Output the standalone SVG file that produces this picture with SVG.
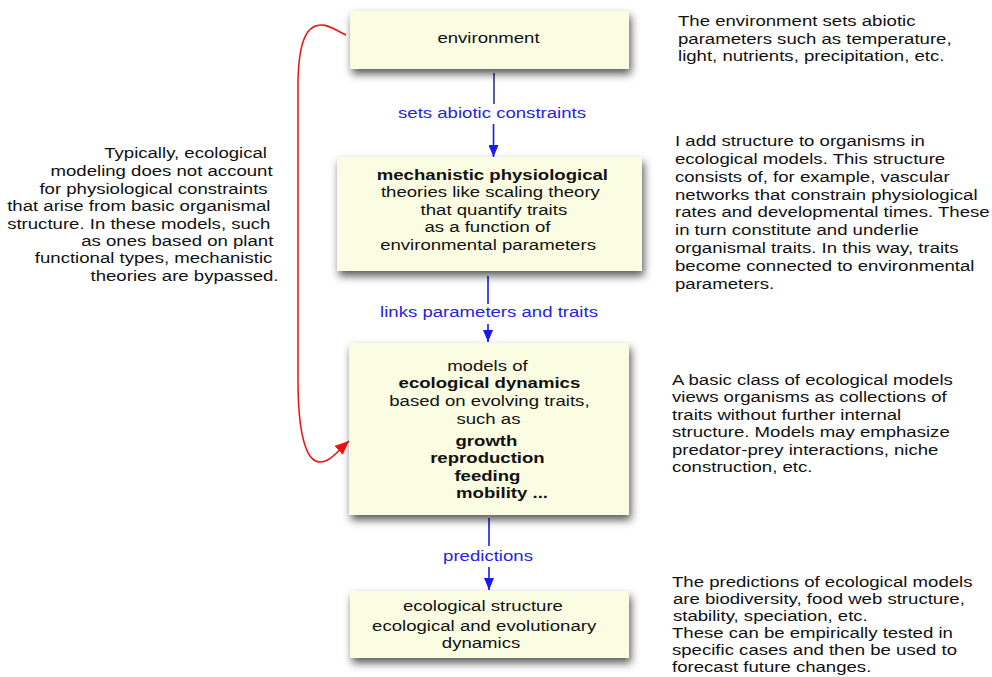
<svg xmlns="http://www.w3.org/2000/svg" width="992" height="677" viewBox="0 0 992 677">
<style>
text{font-family:"Liberation Sans",Arial,Helvetica,sans-serif;font-size:15px;fill:#111}
.c{text-anchor:middle}
.e{text-anchor:end}
.b{font-weight:bold}
.lbl{fill:#2424e0;text-anchor:middle}
.box{fill:#fbfde3;filter:url(#sh)}
.blue{stroke:#1a1af0;stroke-width:1.6;fill:none;marker-end:url(#ab)}
</style>
<defs>
<filter id="sh" x="-10%" y="-20%" width="125%" height="150%">
<feDropShadow dx="2" dy="5" stdDeviation="4" flood-color="#000" flood-opacity="0.65"/>
</filter>
<marker id="ab" viewBox="0 0 12 10" refX="12" refY="5" markerWidth="12" markerHeight="10" markerUnits="userSpaceOnUse" orient="auto">
<path d="M0,0 L12,5 L0,10 Z" fill="#1a1af0"/>
</marker>
<marker id="ar" viewBox="0 0 14 12" refX="14" refY="6" markerWidth="14" markerHeight="12" markerUnits="userSpaceOnUse" orient="auto">
<path d="M0,0 L14,6 L0,12 Z" fill="#ee1111"/>
</marker>
</defs>

<g id="connectors">
<line x1="494" y1="73" x2="494" y2="104" stroke="#2c3590" stroke-width="1.6"/>
<line class="blue" x1="493.5" y1="124" x2="493.5" y2="157" stroke="#2c3590"/>
<line x1="488" y1="276" x2="488" y2="304" stroke="#1a1af0" stroke-width="1.6"/>
<line class="blue" x1="488" y1="324" x2="488" y2="342"/>
<line x1="489" y1="518" x2="489" y2="546" stroke="#1a1af0" stroke-width="1.6"/>
<line class="blue" x1="489" y1="567" x2="489" y2="590"/>
<path d="M346 35 C335 30 328 24 320 25 C305 26 299 45 298 80 L298 380 C298 430 305 462 320 462 C330 462 338 451 349 441" fill="none" stroke="#ee1111" stroke-width="1.5" marker-end="url(#ar)"/>
<text class="lbl" transform="translate(492,118) scale(1.24,1)">sets abiotic constraints</text>
<text class="lbl" transform="translate(489,317) scale(1.24,1)">links parameters and traits</text>
<text class="lbl" transform="translate(488,561) scale(1.24,1)">predictions</text>
</g>

<g id="environment">
<rect class="box" x="350" y="11" width="279" height="58"/>
<text class="c" transform="translate(488.5,43) scale(1.24,1)">environment</text>
</g>

<g id="mechanistic">
<rect class="box" x="337" y="157" width="305" height="114"/>
<text class="c" transform="translate(492,0) scale(1.24,1)">
<tspan class="b" x="2.4" y="180">mechanistic physiological</tspan>
<tspan x="0.8" y="197.5">theories like scaling theory</tspan>
<tspan x="3.6" y="215">that quantify traits</tspan>
<tspan x="-1.6" y="232.5">as a function of</tspan>
<tspan x="-3.2" y="250">environmental parameters</tspan>
</text>
</g>

<g id="dynamics">
<rect class="box" x="349" y="343" width="280" height="172"/>
<text class="c" transform="translate(490,0) scale(1.24,1)">
<tspan x="0" y="371">models of</tspan>
<tspan class="b" x="1.6" y="388">ecological dynamics</tspan>
<tspan x="1.6" y="406">based on evolving traits,</tspan>
<tspan x="0.8" y="424">such as</tspan>
<tspan class="b" x="-0.8" y="446">growth</tspan>
<tspan class="b" x="0" y="463">reproduction</tspan>
<tspan class="b" x="0" y="481">feeding</tspan>
<tspan class="b" x="9.7" y="498">mobility ...</tspan>
</text>
</g>

<g id="structure">
<rect class="box" x="350" y="591" width="279" height="67"/>
<text class="c" transform="translate(486,0) scale(1.24,1)">
<tspan x="-0.4" y="611">ecological structure</tspan>
<tspan x="0.6" y="631">ecological and evolutionary</tspan>
<tspan x="-4" y="648.5">dynamics</tspan>
</text>
</g>

<g id="note-left">
<text class="e" transform="scale(1.24,1)">
<tspan x="219.5" y="158.5">Typically, ecological</tspan>
<tspan x="224" y="176.5">modeling does not account</tspan>
<tspan x="220" y="194">for physiological constraints</tspan>
<tspan x="222.3" y="211.5">that arise from basic organismal</tspan>
<tspan x="222.3" y="229">structure. In these models, such</tspan>
<tspan x="224.6" y="246.5">as ones based on plant</tspan>
<tspan x="223.8" y="263.5">functional types, mechanistic</tspan>
<tspan x="224.6" y="281">theories are bypassed.</tspan>
</text>
</g>

<g id="note-environment">
<text transform="translate(678,0) scale(1.24,1)">
<tspan x="0" y="26">The environment sets abiotic</tspan>
<tspan x="0" y="44">parameters such as temperature,</tspan>
<tspan x="0" y="61.5">light, nutrients, precipitation, etc.</tspan>
</text>
</g>

<g id="note-mechanistic">
<text transform="translate(675,0) scale(1.24,1)">
<tspan x="0" y="146">I add structure to organisms in</tspan>
<tspan x="0" y="164">ecological models. This structure</tspan>
<tspan x="0" y="182">consists of, for example, vascular</tspan>
<tspan x="0" y="199.7">networks that constrain physiological</tspan>
<tspan x="0" y="217.5">rates and developmental times. These</tspan>
<tspan x="0" y="235.5">in turn constitute and underlie</tspan>
<tspan x="0" y="253.4">organismal traits. In this way, traits</tspan>
<tspan x="0" y="271.3">become connected to environmental</tspan>
<tspan x="0" y="289.2">parameters.</tspan>
</text>
</g>

<g id="note-dynamics">
<text transform="translate(672,0) scale(1.24,1)">
<tspan x="0" y="385">A basic class of ecological models</tspan>
<tspan x="0" y="402.5">views organisms as collections of</tspan>
<tspan x="0" y="420">traits without further internal</tspan>
<tspan x="0" y="437.5">structure. Models may emphasize</tspan>
<tspan x="0" y="455">predator-prey interactions, niche</tspan>
<tspan x="0" y="472.5">construction, etc.</tspan>
</text>
</g>

<g id="note-structure">
<text transform="translate(672,0) scale(1.24,1)">
<tspan x="0" y="587">The predictions of ecological models</tspan>
<tspan x="0.8" y="604">are biodiversity, food web structure,</tspan>
<tspan x="0.8" y="621">stability, speciation, etc.</tspan>
<tspan x="0" y="638">These can be empirically tested in</tspan>
<tspan x="0" y="655">specific cases and then be used to</tspan>
<tspan x="0" y="672">forecast future changes.</tspan>
</text>
</g>
</svg>
